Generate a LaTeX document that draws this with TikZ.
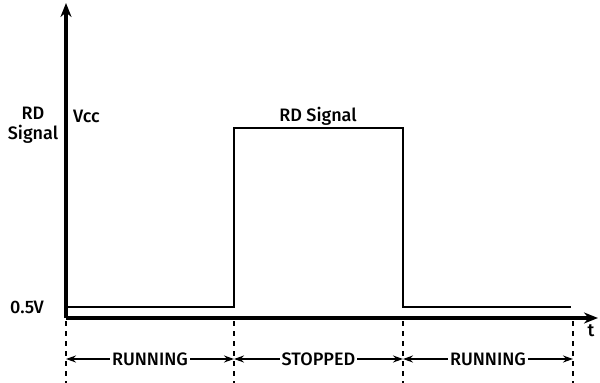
\documentclass[tikz,border=0pt]{standalone}
\usepackage{fontspec}
\setmainfont{Fira Sans}[UprightFont=* Medium,BoldFont=* Bold]
\usetikzlibrary{arrows.meta,positioning}
\tikzset{
  axis/.style={line width=3.2pt,-{Stealth[length=14pt,width=11pt]}},
  signal/.style={line width=2.8pt},
  marker/.style={line width=1.6pt,dash pattern=on 5pt off 5pt},
  span/.style={line width=2pt,{Stealth[length=10pt,width=7pt]}-{Stealth[length=10pt,width=7pt]}},
  lbl/.style={font=\fontsize{18}{20}\selectfont,inner sep=1pt},
}
\begin{document}
\begin{tikzpicture}[x=1pt,y=-1pt]
        \useasboundingbox (0,0) rectangle (600,383);

        % axes
        \coordinate (o) at (66,318);
        \coordinate (ytop) at (66,3);
        \coordinate (xend) at (598,318);
        \draw[axis] (o) -- (ytop);
        \draw[axis] (o) -- (xend);

        % the signal
        \coordinate (s0) at (66,307);
        \coordinate (s1) at (234,307);
        \coordinate (s2) at (234,128);
        \coordinate (s3) at (403,128);
        \coordinate (s4) at (403,307);
        \coordinate (s5) at (571,307);
        \draw[signal] (s0) -- (s1) -- (s2) -- (s3) -- (s4) -- (s5);

        % dashed time markers
        \foreach \x[count=\c] in {66, 234, 403, 573}{
            \coordinate (m\c) at (\x,359);
            \coordinate (mt\c) at (\x,321);
            \coordinate (mb\c) at (\x,383);
            \draw[marker] (mt\c) -- (mb\c);
        }

        % phase spans
        \foreach \a/\b/\txt in {1/2/RUNNING, 2/3/STOPPED, 3/4/RUNNING}{
            \draw[span] (m\a) -- node[lbl,fill=white,inner xsep=2pt] {\txt} (m\b);
        }

        % labels
        \node[lbl,align=center] (ylabel) at (33,125) {RD\\Signal};
        \node[lbl,anchor=west] (vcc) at (72,116) {Vcc};
        \node[lbl] (high) at (318,116) {RD Signal};
        \node[lbl,anchor=east] (low) at (45,307) {0.5V};
        \node[lbl] (tlab) at (591,331) {t};
    \end{tikzpicture}
\end{document}
